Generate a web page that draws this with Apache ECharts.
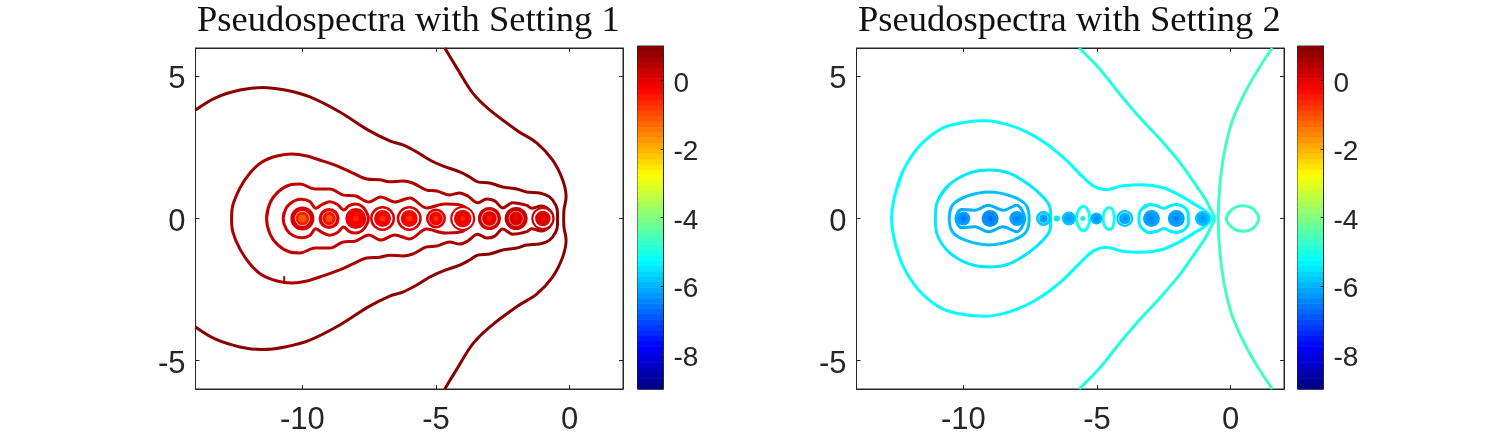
<!DOCTYPE html>
<html>
<head>
<meta charset="utf-8">
<title>Pseudospectra</title>
<script src="https://cdn.jsdelivr.net/npm/echarts@6/dist/echarts.min.js"></script>
<style>
  html, body { margin: 0; padding: 0; background: #fff; }
  #chart { width: 1500px; height: 438px; }
</style>
</head>
<body>
<div id="chart"></div>
<script>
// axis ticks
const xTicks = [-10, -5, 0];
const yTicks = [-5, 0, 5];
const barTicks = [-8, -6, -4, -2, 0];

// contours, upper half only (both plots are symmetric about the real axis)
const leftRight = [[-4.67, 6], [-4.22, 5.3], [-3.63, 4.42], [-2.99, 3.82], [-1.94, 3.08], [-1.23, 2.66], [-0.64, 2.06], [-0.26, 1.36], [-0.13, 0.76], [-0.21, 0.3], [-0.22, 0]];
const leftOuter = [[-14, 3.82], [-13.27, 4.24], [-12.34, 4.52], [-11.51, 4.61], [-10.65, 4.52], [-9.72, 4.28], [-8.6, 3.75], [-7.55, 3.12], [-6.73, 2.73], [-6.24, 2.59], [-5.72, 2.34], [-5.23, 2.06], [-4.75, 1.85], [-4.11, 1.64], [-3.74, 1.46], [-3.44, 1.29], [-2.99, 1.25], [-2.5, 1.11], [-1.98, 1.04], [-1.61, 0.93], [-1.12, 0.9], [-0.75, 0.76], [-0.52, 0.48], [-0.45, 0.19], [-0.45, 0]];
const leftBulb = [[-12.65, 0], [-12.6, 0.48], [-12.34, 1.07], [-11.96, 1.6], [-11.51, 1.99], [-10.95, 2.2], [-10.39, 2.27], [-9.83, 2.2], [-9.23, 2.02], [-8.6, 1.81], [-8.11, 1.6], [-7.59, 1.39], [-7.1, 1.36], [-6.73, 1.29], [-6.24, 1.32], [-5.87, 1.25], [-5.35, 1], [-4.97, 0.97], [-4.49, 0.83], [-4.11, 0.9], [-3.81, 0.79], [-3.44, 0.55], [-3.1, 0.69], [-2.8, 0.62], [-2.5, 0.37], [-2.13, 0.55], [-1.6, 0.46], [-1.42, 0.36], [-1.06, 0.44], [-0.74, 0.28], [-0.62, 0]];
const leftHull = [[-11.34, 0], [-11.21, 0.55], [-10.92, 0.93], [-10.47, 1.18], [-10.09, 1.21], [-9.53, 1.04], [-8.97, 1.04], [-8.49, 0.83], [-8, 0.79], [-7.51, 0.58], [-7.07, 0.76], [-6.54, 0.58], [-5.98, 0.72], [-5.35, 0.37], [-4.67, 0.51], [-4.11, 0.48], [-3.72, 0.25], [-3.62, 0]];
const leftRing = [[-10.72, 0], [-10.6, 0.38], [-10.35, 0.6], [-10.03, 0.68], [-9.72, 0.6], [-9.5, 0.36], [-9.25, 0.5], [-8.97, 0.59], [-8.7, 0.5], [-8.45, 0.3], [-8.25, 0.45], [-8.01, 0.51], [-7.75, 0.42], [-7.58, 0.19], [-7.53, 0]];
const leftNick = [[-10.68, -2.22], [-10.68, -2.03]];

const rightA = [[1.56, 6], [1.06, 5.29], [0.56, 4.47], [0.06, 3.42], [-0.25, 2.24], [-0.41, 1.07], [-0.46, 0]];
const rightB = [[-5.67, 6], [-4.92, 5.29], [-4.17, 4.41], [-3.43, 3.59], [-2.68, 2.83], [-1.93, 2.01], [-1.31, 1.19], [-0.93, 0.66], [-0.71, 0.25], [-0.6, 0]];
const rightC = [[-12.69, 0], [-12.59, 0.72], [-12.27, 1.65], [-11.65, 2.54], [-10.78, 3.18], [-9.91, 3.39], [-9.16, 3.44], [-8.41, 3.32], [-7.66, 3.06], [-6.92, 2.65], [-6.17, 2.07], [-5.55, 1.48], [-5.11, 1.13], [-4.67, 1.01], [-4.05, 1.15], [-3.3, 1.19], [-2.55, 1.09], [-1.93, 0.83], [-1.31, 0.48], [-0.93, 0.25], [-0.72, 0]];
const rightD = [[-11.05, 0], [-10.97, 0.6], [-10.53, 1.19], [-9.78, 1.6], [-9.03, 1.71], [-8.29, 1.6], [-7.54, 1.19], [-6.98, 0.72], [-6.75, 0.36], [-6.73, 0]];
const rightE = [[-10.53, 0], [-10.4, 0.48], [-9.91, 0.77], [-9.03, 0.93], [-8.16, 0.77], [-7.66, 0.48], [-7.54, 0]];
const rightF = [[-10.28, 0], [-10.07, 0.32], [-9.57, 0.29], [-9.07, 0.47], [-8.51, 0.29], [-8.01, 0.47], [-7.7, 0]];
const rightG = [[-5.78, 0], [-5.72, 0.22], [-5.62, 0.38], [-5.5, 0.43], [-5.38, 0.36], [-5.3, 0.2], [-5.27, 0]];
const rightH = [[-4.77, 0], [-4.74, 0.2], [-4.65, 0.34], [-4.54, 0.39], [-4.42, 0.32], [-4.37, 0.17], [-4.35, 0]];
const rightI = [[-3.43, 0], [-3.36, 0.29], [-3.03, 0.49], [-2.75, 0.45], [-2.5, 0.35], [-2.25, 0.45], [-2.03, 0.49], [-1.72, 0.38], [-1.58, 0.15], [-1.58, 0]];
const rightJ = [[-0.16, 0], [-0.04, 0.23], [0.21, 0.41], [0.52, 0.45], [0.83, 0.35], [1.01, 0.15], [1.06, 0]];

// contour levels (log10 epsilon on the colour bar)
const leftContours = [[leftRight, 0.9], [leftOuter, 0.9], [leftBulb, 0.6], [leftHull, 0.37], [leftRing, 0.2]];
const rightContours = [[rightA, -4.6], [rightB, -4.94], [rightC, -5.25], [rightD, -5.47], [rightE, -5.88], [rightF, -6.03], [rightG, -5.1], [rightH, -5.1], [rightI, -5.4], [rightJ, -4.6]];

// small discs around the eigenvalues
const leftEig = [-10, -9, -8, -7, -6, -5, -4, -3, -2, -1];
const leftOuterD = [24, 21, 21, 25, 25, 20, 25, 23, 23, 23];
const leftOuterC = ['#d40000', '#dc0000', '#e40000', '#d80000', '#d80000', '#d80000', '#d40000', '#d00000', '#c80000', '#c80000'];
const leftGapD = [15, 14.5, 0, 20, 20, 15, 21, 16.5, 15, 19];
const leftGapC = ['#ffd0c0', '#ffa090', '#fff', '#fff', '#fff', '#ffa090', '#fff', '#ffc0c0', '#f09090', '#fff'];
const leftInnerD = [13.5, 13, 18, 17, 17, 13.5, 17.5, 14.5, 13.5, 15.5];
const leftInnerC = ['#ff1800', '#f41000', '#f40000', '#fa0000', '#fa0000', '#ec0800', '#f00000', '#e80000', '#dc0000', '#dc0000'];
const leftCoreD = [8, 7, 6, 6, 6, 5, 5, 5, 5, 5];
const leftCoreC = ['#ff5400', '#ff5000', '#ff2000', '#ff3000', '#ff3000', '#ff3000', '#ff2000', '#ff1800', '#f00000', '#f00000'];

const rightEig = [-10, -9, -8, -7, -6.5, -6.05, -5.53, -5.02, -3.96, -2.96, -2.03, -1.05];
const rightOuterD = [14, 17, 15, 15, 6, 14, 5, 12, 17, 17, 17, 15];
const rightOuterC = ['#00a4ff', '#0094ff', '#00a4ff', '#00c8ff', '#00e8f0', '#00c8ff', '#10f0e0', '#00b8ff', '#00c8ff', '#00a8ff', '#00a8ff', '#00c0ff'];
const rightGapD = [0, 0, 0, 10, 0, 0, 0, 0, 13, 0, 0, 0];
const rightGapC = ['#fff', '#fff', '#fff', '#70e0ff', '#fff', '#fff', '#fff', '#fff', '#80e4ff', '#fff', '#fff', '#fff'];
const rightInnerD = [10, 12, 10, 8, 0, 10, 0, 8, 11, 12, 12, 10];
const rightInnerC = ['#0090ff', '#0088ff', '#0098ff', '#00a8ff', '#00e8f0', '#00b0ff', '#10f0e0', '#00a0ff', '#00a8ff', '#0098ff', '#0098ff', '#00acff'];
const rightCoreD = [4, 5, 4, 3, 0, 4, 0, 3, 4, 4, 4, 4];
const rightCoreC = ['#0070ff', '#0068ff', '#0078ff', '#0088ff', '#00e8f0', '#0098ff', '#10f0e0', '#0088ff', '#0090ff', '#0078ff', '#0078ff', '#0090ff'];

const JET_STOPS = [[0, 0, 0, 0.5], [0.125, 0, 0, 1], [0.375, 0, 1, 1], [0.625, 1, 1, 0], [0.875, 1, 0, 0], [1, 0.5, 0, 0]];
const BAR_MIN = -9;
const BAR_MAX = 1;
const BAR_STEPS = 64;

function jet(value) {
    const t = Math.max(0, Math.min(1, (value - BAR_MIN) / (BAR_MAX - BAR_MIN)));
    let i = 0;
    while (i < JET_STOPS.length - 2 && t > JET_STOPS[i + 1][0]) i++;
    const a = JET_STOPS[i], b = JET_STOPS[i + 1];
    const f = (t - a[0]) / (b[0] - a[0]);
    const ch = k => Math.round(255 * (a[k] + (b[k] - a[k]) * f));
    return `rgb(${ch(1)},${ch(2)},${ch(3)})`;
}

// upper half + its reflection below the real axis; closed loops run on past
// their start so the smoothing leaves no corner there
function mirrored(upper) {
    const lower = upper.slice(0, -1).reverse().map(p => [p[0], -p[1]]);
    const all = upper.concat(lower);
    return upper[0][1] === 0 ? all.concat(all.slice(1, 3)) : all;
}

const TEXT = '#262626';
const SANS = '"Liberation Sans", Arial, sans-serif';
const TITLE_STYLE = { fontFamily: '"Liberation Serif", serif', fontWeight: 'normal', fontSize: 36.5, color: '#111' };

function contourSeries(contours, axis) {
    return contours.map(([points, level]) => ({
        type: 'line',
        xAxisIndex: axis,
        yAxisIndex: axis,
        data: mirrored(points),
        symbol: 'none',
        smooth: 0.33,
        lineStyle: { color: jet(level), width: 3 },
        z: 3
    }));
}

function discLayer(eig, sizes, colors, axis, z) {
    return {
        type: 'scatter',
        xAxisIndex: axis,
        yAxisIndex: axis,
        data: eig.map(x => [x, 0]),
        symbolSize: (val, params) => sizes[params.dataIndex],
        itemStyle: { color: params => colors[params.dataIndex], opacity: 1 },
        z: z
    };
}

function colorBarSeries(axis) {
    const cells = [];
    const step = (BAR_MAX - BAR_MIN) / BAR_STEPS;
    for (let i = 0; i < BAR_STEPS; i++) cells.push([BAR_MIN + i * step, BAR_MIN + (i + 1) * step]);
    return {
        type: 'custom',
        xAxisIndex: axis,
        yAxisIndex: axis,
        data: cells,
        renderItem: (params, api) => {
            const lo = api.coord([0, api.value(0)]);
            const hi = api.coord([1, api.value(1)]);
            return {
                type: 'rect',
                shape: { x: lo[0], y: hi[1], width: hi[0] - lo[0], height: lo[1] - hi[1] + 0.6 },
                style: { fill: jet((api.value(0) + api.value(1)) / 2) }
            };
        },
        z: 2
    };
}

const axisLine = { show: true, onZero: false, lineStyle: { color: TEXT, width: 1 } };

function plotAxes(gridIndex) {
    const tickStyle = { show: true, inside: true, length: 4, lineStyle: { color: TEXT, width: 1 } };
    const xBase = { type: 'value', gridIndex, min: -14, max: 2, splitLine: { show: false }, axisLine };
    const yBase = { type: 'value', gridIndex, min: -6, max: 6, splitLine: { show: false }, axisLine };
    return {
        x: [
            { ...xBase, position: 'bottom', axisTick: { ...tickStyle, customValues: xTicks },
              axisLabel: { customValues: xTicks, color: TEXT, fontFamily: SANS, fontSize: 31, margin: 16 } },
            { ...xBase, position: 'top', axisTick: { ...tickStyle, customValues: xTicks }, axisLabel: { show: false } }
        ],
        y: [
            { ...yBase, position: 'left', axisTick: { ...tickStyle, customValues: yTicks },
              axisLabel: { customValues: yTicks, color: TEXT, fontFamily: SANS, fontSize: 31, margin: 10, verticalAlign: 'top', lineHeight: 7 } },
            { ...yBase, position: 'right', axisTick: { ...tickStyle, customValues: yTicks }, axisLabel: { show: false } }
        ]
    };
}

function barAxes(gridIndex) {
    return {
        x: { type: 'value', gridIndex, min: 0, max: 1, show: false },
        y: {
            type: 'value', gridIndex, min: BAR_MIN, max: BAR_MAX, position: 'right',
            splitLine: { show: false }, axisLine,
            axisTick: { show: true, inside: true, length: 3, lineStyle: { color: TEXT, width: 1 }, customValues: barTicks },
            axisLabel: { customValues: barTicks, color: TEXT, fontFamily: SANS, fontSize: 28, margin: 10, verticalAlign: 'top', lineHeight: 7 },
            z: 5
        }
    };
}

const leftAxes = plotAxes(0), leftBar = barAxes(1), rightAxes = plotAxes(2), rightBar = barAxes(3);

const option = {
    animation: false,
    backgroundColor: '#fff',
    title: [
        { text: 'Pseudospectra with Setting 1', left: 197, top: 3, padding: 0, textStyle: TITLE_STYLE },
        { text: 'Pseudospectra with Setting 2', left: 858, top: 3, padding: 0, textStyle: TITLE_STYLE }
    ],
    grid: [
        { left: 195.5, top: 48, width: 427.5, height: 341, show: true, borderColor: TEXT, borderWidth: 1, backgroundColor: '#fff' },
        { left: 637.5, top: 46, width: 26, height: 343, show: true, borderColor: TEXT, borderWidth: 1 },
        { left: 856.5, top: 48, width: 427.5, height: 341, show: true, borderColor: TEXT, borderWidth: 1, backgroundColor: '#fff' },
        { left: 1297.5, top: 46, width: 26, height: 343, show: true, borderColor: TEXT, borderWidth: 1 }
    ],
    xAxis: [...leftAxes.x, leftBar.x, ...rightAxes.x, rightBar.x],
    yAxis: [...leftAxes.y, leftBar.y, ...rightAxes.y, rightBar.y],
    series: [
        ...contourSeries(leftContours, 0),
        { type: 'line', xAxisIndex: 0, yAxisIndex: 0, data: leftNick, symbol: 'none', lineStyle: { color: jet(0.6), width: 2 }, z: 3 },
        discLayer(leftEig, leftOuterD, leftOuterC, 0, 4),
        discLayer(leftEig, leftGapD, leftGapC, 0, 5),
        discLayer(leftEig, leftInnerD, leftInnerC, 0, 6),
        discLayer(leftEig, leftCoreD, leftCoreC, 0, 7),
        colorBarSeries(2),
        ...contourSeries(rightContours, 3),
        discLayer(rightEig, rightOuterD, rightOuterC, 3, 4),
        discLayer(rightEig, rightGapD, rightGapC, 3, 5),
        discLayer(rightEig, rightInnerD, rightInnerC, 3, 6),
        discLayer(rightEig, rightCoreD, rightCoreC, 3, 7),
        colorBarSeries(5)
    ]
};

const chart = echarts.init(document.getElementById('chart'), null, { renderer: 'canvas' });
chart.setOption(option);
</script>
</body>
</html>
